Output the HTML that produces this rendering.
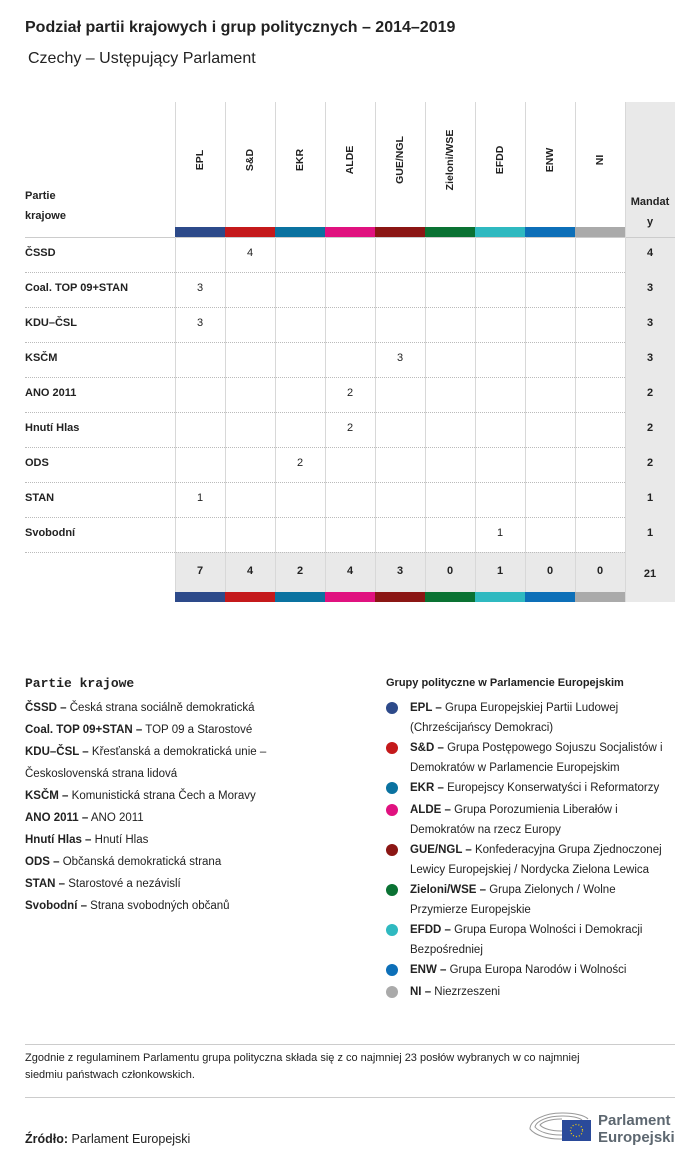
<!DOCTYPE html>
<html><head><meta charset="utf-8">
<style>
body{margin:0;background:#fff;font-family:"Liberation Sans",sans-serif;color:#222;}
#root{position:relative;width:700px;height:1165px;overflow:hidden;}
.a{position:absolute;white-space:nowrap;}
.t{font-size:11.5px;line-height:22px;}
.g{font-size:11.5px;line-height:20px;}
b{font-weight:bold;}
.dot{position:absolute;width:12px;height:12px;border-radius:50%;}
</style></head><body>
<div id="root">
<div class="a" style="left:25px;top:19px;font-size:16px;font-weight:bold;">Podział partii krajowych i grup politycznych – 2014–2019</div>
<div class="a" style="left:28px;top:50px;font-size:16px;">Czechy – Ustępujący Parlament</div>
<div class="a" style="left:25px;top:186px;font-size:11px;font-weight:bold;line-height:20px;white-space:normal;">Partie<br>krajowe</div>
<div id="table"></div>

<div class="a" style="left:25px;top:676px;font-family:'Liberation Mono',monospace;font-weight:bold;font-size:13px;">Partie krajowe</div>
<div id="plegend"></div>
<div class="a" style="left:386px;top:677px;font-size:11px;font-weight:bold;">Grupy polityczne w Parlamencie Europejskim</div>
<div id="glegend"></div>

<div class="a" style="left:25px;top:1044px;width:650px;height:1px;background:#ccc;"></div>
<div class="a t" style="left:25px;top:1050px;line-height:17px;font-size:11px;">Zgodnie z regulaminem Parlamentu grupa polityczna składa się z co najmniej 23 posłów wybranych w co najmniej<br>siedmiu państwach członkowskich.</div>
<div class="a" style="left:25px;top:1097px;width:650px;height:1px;background:#ccc;"></div>
<div class="a" style="left:25px;top:1132px;font-size:12.5px;"><b>Źródło:</b> Parlament Europejski</div>
<svg class="a" style="left:528px;top:1107px" width="64" height="36">
<g fill="none" stroke="#999" stroke-width="1">
<path d="M34 32 A32 16 0 0 1 2 22 A32 16 0 0 1 34 6"/><path d="M34 28 A27 12 0 0 1 7 20 A27 12 0 0 1 34 9"/><path d="M34 24 A22 9 0 0 1 12 18 A22 9 0 0 1 34 12"/><path d="M34 6 A26 8 0 0 1 60 12"/><path d="M34 9 A20 6 0 0 1 54 13"/></g>
<rect x="34" y="13" width="29" height="21" fill="#2a4a9a"/>
<circle cx="48.5" cy="23.5" r="6" fill="none" stroke="#ffd400" stroke-width="1.2" stroke-dasharray="1 2"/>
</svg>
<div class="a" style="left:598px;top:1112px;font-size:15px;font-weight:bold;color:#5d6770;line-height:17px;">Parlament<br>Europejski</div>
</div>
<script>
const groups=["EPL","S&D","EKR","ALDE","GUE/NGL","Zieloni/WSE","EFDD","ENW","NI"];
const groupColors=["#2d4a8a","#c4191b","#0a72a0","#e0117f","#8b1614","#0a7233","#2fb9c0","#0d6fb8","#aaaaaa"];
const parties=["ČSSD","Coal. TOP 09+STAN","KDU–ČSL","KSČM","ANO 2011","Hnutí Hlas","ODS","STAN","Svobodní"];
const seatGroup=[1,0,0,4,3,3,2,0,6];
const seatCount=[4,3,3,3,2,2,2,1,1];
const partyDesc=["Česká strana sociálně demokratická","TOP 09 a Starostové","Křesťanská a demokratická unie –\nČeskoslovenská strana lidová","Komunistická strana Čech a Moravy","ANO 2011","Hnutí Hlas","Občanská demokratická strana","Starostové a nezávislí","Strana svobodných občanů"];
const groupDesc=["Grupa Europejskiej Partii Ludowej\n(Chrześcijańscy Demokraci)","Grupa Postępowego Sojuszu Socjalistów i\nDemokratów w Parlamencie Europejskim","Europejscy Konserwatyści i Reformatorzy","Grupa Porozumienia Liberałów i\nDemokratów na rzecz Europy","Konfederacyjna Grupa Zjednoczonej\nLewicy Europejskiej / Nordycka Zielona Lewica","Grupa Zielonych / Wolne\nPrzymierze Europejskie","Grupa Europa Wolności i Demokracji\nBezpośredniej","Grupa Europa Narodów i Wolności","Niezrzeszeni"];

const T=document.getElementById('table');
const x0=175,cw=50,hdrTop=102,barY=227,rowY=237,rh=35;
const nR=parties.length,totY=rowY+nR*rh,totX=x0+groups.length*cw;
function div(css,name,txt){const d=document.createElement('div');d.className='a';d.style.cssText=css;if(txt!==undefined)d.textContent=txt;


T.appendChild(d);return d;}
div(`left:${totX}px;top:${hdrTop}px;width:50px;height:${totY+50-hdrTop}px;background:#e9e9e9;`,'total-column');
div(`left:${x0}px;top:${totY}px;width:${groups.length*cw}px;height:40px;background:#e9e9e9;`,'totals-row');
div(`left:25px;top:${rowY}px;width:650px;height:1px;background:#ccc;`,'header-rule');
for(let r=1;r<=nR;r++){div(`left:25px;top:${rowY+r*rh}px;width:600px;height:0;border-top:1px dotted #bbb;`,'row-rule');}
groups.forEach((g,i)=>{
  const x=x0+i*cw;
  div(`left:${x}px;top:${hdrTop}px;width:1px;height:${totY+40-hdrTop}px;background:#d8d8d8;`,'column-rule');
  div(`left:${x+25}px;top:160px;font-size:10.5px;font-weight:bold;transform:translate(-50%,-50%) rotate(-90deg);`,'column-header-'+g.toLowerCase().replace(/[^a-z]/g,''),g);
  div(`left:${x}px;top:${barY}px;width:${cw}px;height:10px;background:${groupColors[i]};`,'color-bar-'+i);
  div(`left:${x}px;top:${totY+40}px;width:${cw}px;height:10px;background:${groupColors[i]};`,'color-bar-bottom-'+i);
  let tot=0;seatGroup.forEach((gi,p)=>{if(gi===i)tot+=seatCount[p];});
  div(`left:${x}px;top:${totY+13}px;width:${cw}px;text-align:center;font-size:11px;font-weight:bold;`,'group-total',String(tot));
});
div(`left:${totX}px;top:${hdrTop}px;width:1px;height:${totY+50-hdrTop}px;background:#d8d8d8;`,'column-rule');
const mh=div(`left:${totX}px;top:${barY-35}px;width:50px;text-align:center;font-size:11px;font-weight:bold;line-height:20px;`,'mandates-header');
mh.innerHTML='Mandat<br>y';
let grand=0;
parties.forEach((p,r)=>{
  const y=rowY+r*rh;
  div(`left:25px;top:${y+10}px;font-size:11px;font-weight:bold;`,'party-label',p);
  div(`left:${x0+seatGroup[r]*cw}px;top:${y+10}px;width:${cw}px;text-align:center;font-size:11px;`,'seat-cell',String(seatCount[r]));
  div(`left:${totX}px;top:${y+10}px;width:50px;text-align:center;font-size:11px;font-weight:bold;`,'party-total',String(seatCount[r]));
  grand+=seatCount[r];
});
div(`left:${totX}px;top:${totY+16}px;width:50px;text-align:center;font-size:11px;font-weight:bold;`,'grand-total',String(grand));

const PL=document.getElementById('plegend');
let ly=697;
parties.forEach((p,i)=>{
  const lines=partyDesc[i].split('\n');
  const d=document.createElement('div');d.className='a t';d.style.cssText=`left:25px;top:${ly}px;`;
  d.innerHTML='<b>'+p+' –</b> '+lines.join('<br>');
  
  
  PL.appendChild(d);ly+=22*lines.length;
});
const GL=document.getElementById('glegend');
ly=698;
groups.forEach((g,i)=>{
  const lines=groupDesc[i].split('\n');
  const dot=document.createElement('div');dot.className='dot';dot.style.cssText=`left:386px;top:${ly+4}px;background:${groupColors[i]};`;
  
  
  GL.appendChild(dot);
  const d=document.createElement('div');d.className='a g';d.style.cssText=`left:410px;top:${ly}px;`;
  d.innerHTML='<b>'+g.replace('&','&amp;')+' –</b> '+lines.join('<br>');
  
  
  GL.appendChild(d);ly+=lines.length>1?20*lines.length:22;
});
</script>
</body></html>
